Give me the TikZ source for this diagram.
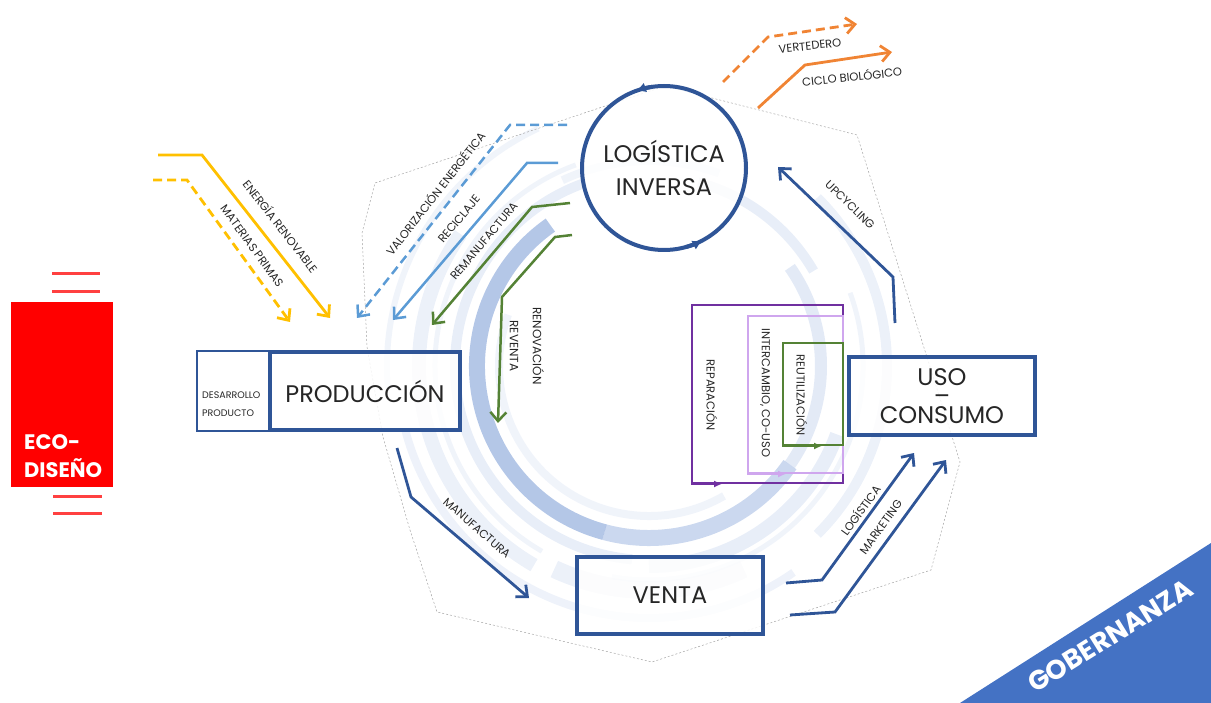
\documentclass[tikz,border=0pt]{standalone}
\usepackage{fontspec}
\setmainfont{Poppins}
\usepackage{tikz}
\usetikzlibrary{arrows.meta, positioning}
\usepackage{xcolor}

\definecolor{azul}{HTML}{2F5597}
\definecolor{azulclaro}{HTML}{5B9BD5}
\definecolor{anillo}{HTML}{4472C4}
\definecolor{amarillo}{HTML}{FFC000}
\definecolor{verde}{HTML}{548235}
\definecolor{naranja}{HTML}{F08434}
\definecolor{morado}{HTML}{7030A0}
\definecolor{lila}{HTML}{CFA6EE}
\definecolor{rojo}{HTML}{FF0000}

\tikzset{
  caja/.style={draw=azul, line width=4pt, fill=white, fill opacity=0.85, text opacity=1,
    text=black!85, font=\fontsize{24}{33}\selectfont, inner sep=0pt, align=center},
  etiq/.style={font=\fontsize{11.5}{13}\selectfont, inner sep=1pt, text=black!85},
  flecha/.style={line width=2.8pt, -{Straight Barb[length=9pt, width=16pt]}},
  discont/.style={dash pattern=on 9pt off 5pt},
  marco/.style={line width=2pt, inner sep=0pt},
  punta/.style={line width=2pt, -{Latex[length=8pt, width=7pt]}},
  barra/.style={draw=rojo!75, line width=3pt},
  contorno/.style={draw=black!35, line width=0.5pt, dash pattern=on 2pt off 2pt}
}

\begin{document}
\begin{tikzpicture}[x=1pt, y=-1pt]
  \useasboundingbox (0,0) rectangle (1211,703);

  % anillos
  \coordinate (rc) at (649,366);
  \foreach \r/\w/\a/\b/\o in {172/16/105/235/0.40, 172/16/35/105/0.28, 172/12/-35/35/0.15,
      150/8/60/200/0.08, 194/10/95/250/0.12, 200/14/20/90/0.12, 214/5/-20/100/0.08,
      214/5/120/250/0.08, 230/14/120/215/0.10, 238/10/-45/45/0.10, 252/8/55/165/0.09,
      262/6/175/245/0.08, 224/18/65/115/0.10, 205/8/245/290/0.08, 190/10/-75/-30/0.12}
    \draw[anillo, line width=\w, opacity=\o] (rc) ++(\a:\r) arc[start angle=\a, end angle=\b, radius=\r];

  \draw[contorno] (665,86) -- (857,135) -- (960,462) -- (931,570) -- (652,662) -- (437,612)
    -- (410,530) -- (383,437) -- (367,347) -- (362,233) -- (375,183) -- cycle;

  % eco-diseño
  \node[fill=rojo, minimum width=102pt, minimum height=185pt, inner sep=0pt] (eco) at (62,394.5) {};
  \node[anchor=west, text=white, font=\bfseries\fontsize{21}{28}\selectfont, align=left, inner sep=0pt]
    (ecotxt) at (24,456) {ECO-\\DISEÑO};
  \draw[barra] (52,274) -- (100,274);
  \draw[barra] (52,292) -- (100,292);
  \draw[barra] (53,496) -- (102,496);
  \draw[barra] (53,513) -- (102,513);

  % bloques
  \node[caja, line width=1.5pt, minimum width=72pt, minimum height=80pt] (des) at (233,391) {};
  \node[anchor=west, font=\fontsize{9.5}{18}\selectfont, align=left, inner sep=0pt, text=black!85]
    (destxt) at (202,404) {DESARROLLO\\PRODUCTO};
  \node[caja, minimum width=190pt, minimum height=78pt] (prod) at (365,391) {PRODUCCIÓN};
  \node[caja, minimum width=186pt, minimum height=77pt] (venta) at (670,595.5) {VENTA};
  \node[caja, minimum width=186pt, minimum height=78pt, font=\fontsize{24}{19}\selectfont]
    (uso) at (942,396) {USO\\–\\CONSUMO};
  \node[caja, circle, minimum size=164pt] (li) at (664,168) {LOGÍSTICA\\INVERSA};
  \draw[azul, line width=4pt, -{Latex[length=10pt, width=10pt]}] (li.center) ++(262:82) arc[start angle=262, end angle=250, radius=82];
  \draw[azul, line width=4pt, -{Latex[length=10pt, width=10pt]}] (li.center) ++(75:82) arc[start angle=75, end angle=62, radius=82];

  % lazos internos
  \node[marco, draw=morado, minimum width=151pt, minimum height=178pt] (rep) at (767.5,394) {};
  \node[marco, draw=lila, minimum width=95pt, minimum height=157pt] (inter) at (795.5,394.5) {};
  \node[marco, draw=verde, minimum width=60pt, minimum height=102pt] (reut) at (813,394) {};
  \draw[punta, morado] (rep.south west) -- ++(31,0);
  \draw[punta, lila] (inter.south west) -- ++(39,0);
  \draw[punta, verde] (reut.south west) -- ++(40,0);
  \node[etiq, rotate=-90] (lrep) at (712,395) {REPARACIÓN};
  \node[etiq, rotate=-90] (linter) at (765,393) {INTERCAMBIO, CO-USO};
  \node[etiq, rotate=-90] (lreut) at (802,395) {REUTILIZACIÓN};

  % entradas
  \coordinate (er1) at (158,155); \coordinate (er2) at (202,155); \coordinate (er3) at (330,318);
  \coordinate (mp1) at (153,180); \coordinate (mp2) at (187,180); \coordinate (mp3) at (290,322);
  \draw[flecha, amarillo] (er1) -- (er2) -- (er3);
  \draw[flecha, amarillo, discont] (mp1) -- (mp2) -- (mp3);
  \node[etiq, rotate=-52] (lenergia) at (281,226) {ENERGÍA RENOVABLE};
  \node[etiq, rotate=-54] (lmaterias) at (252,246) {MATERIAS PRIMAS};

  % retornos
  \coordinate (ve1) at (567,125); \coordinate (ve2) at (510,125); \coordinate (ve3) at (357,318);
  \coordinate (rc1) at (558,163); \coordinate (rc2) at (527,163); \coordinate (rc3) at (393,320);
  \coordinate (rm1) at (570,203); \coordinate (rm2) at (532,207); \coordinate (rm3) at (432,325);
  \coordinate (rn1) at (572,235); \coordinate (rn2) at (555,237); \coordinate (rn3) at (502,297);
  \coordinate (rn4) at (498,423);
  \draw[flecha, azulclaro, line width=2.5pt, discont] (ve1) -- (ve2) -- (ve3);
  \draw[flecha, azulclaro, line width=2.5pt] (rc1) -- (rc2) -- (rc3);
  \draw[flecha, verde, line width=2.5pt] (rm1) -- (rm2) -- (rm3);
  \draw[flecha, verde, line width=2.5pt] (rn1) -- (rn2) -- (rn3) -- (rn4);
  \node[etiq, rotate=52] (lvalor) at (435,193) {VALORIZACIÓN ENERGÉTICA};
  \node[etiq, rotate=50] (lreciclaje) at (459,219) {RECICLAJE};
  \node[etiq, rotate=50] (lremanu) at (484,241) {REMANUFACTURA};
  \node[etiq, rotate=-90, align=center, font=\fontsize{12}{23}\selectfont] (lrenov) at (527,346) {RENOVACIÓN\\REVENTA};

  % ciclo
  \coordinate (up1) at (895,323); \coordinate (up2) at (893,277); \coordinate (up3) at (778,167);
  \coordinate (mf1) at (397,448); \coordinate (mf2) at (411,497); \coordinate (mf3) at (529,598);
  \coordinate (lg1) at (786,583); \coordinate (lg2) at (822,580); \coordinate (lg3) at (914,453);
  \coordinate (mk1) at (790,615); \coordinate (mk2) at (835,612); \coordinate (mk3) at (946,460);
  \draw[flecha, azul] (up1) -- (up2) -- (up3);
  \draw[flecha, azul] (mf1) -- (mf2) -- (mf3);
  \draw[flecha, azul] (lg1) -- (lg2) -- (lg3);
  \draw[flecha, azul] (mk1) -- (mk2) -- (mk3);
  \node[etiq, rotate=-44] (lupcy) at (850,205) {UPCYCLING};
  \node[etiq, rotate=-41] (lmanu) at (477,528) {MANUFACTURA};
  \node[etiq, rotate=54] (llogis) at (860,510) {LOGÍSTICA};
  \node[etiq, rotate=54] (lmarket) at (881,527) {MARKETING};

  % salidas
  \coordinate (vt1) at (723,82); \coordinate (vt2) at (768,37); \coordinate (vt3) at (857,24);
  \coordinate (cb1) at (758,108); \coordinate (cb2) at (805,65); \coordinate (cb3) at (892,52);
  \draw[flecha, naranja, discont] (vt1) -- (vt2) -- (vt3);
  \draw[flecha, naranja] (cb1) -- (cb2) -- (cb3);
  \node[etiq, rotate=6] (lvert) at (810,46) {VERTEDERO};
  \node[etiq, rotate=6] (lciclo) at (852,76) {CICLO BIOLÓGICO};

  % gobernanza
  \fill[anillo] (960,703) -- (1211,543) -- (1211,703) -- cycle;
  \node[rotate=32, text=white, font=\bfseries\fontsize{27}{27}\selectfont, inner sep=0pt] (gob) at (1110,636) {GOBERNANZA};
\end{tikzpicture}
\end{document}
